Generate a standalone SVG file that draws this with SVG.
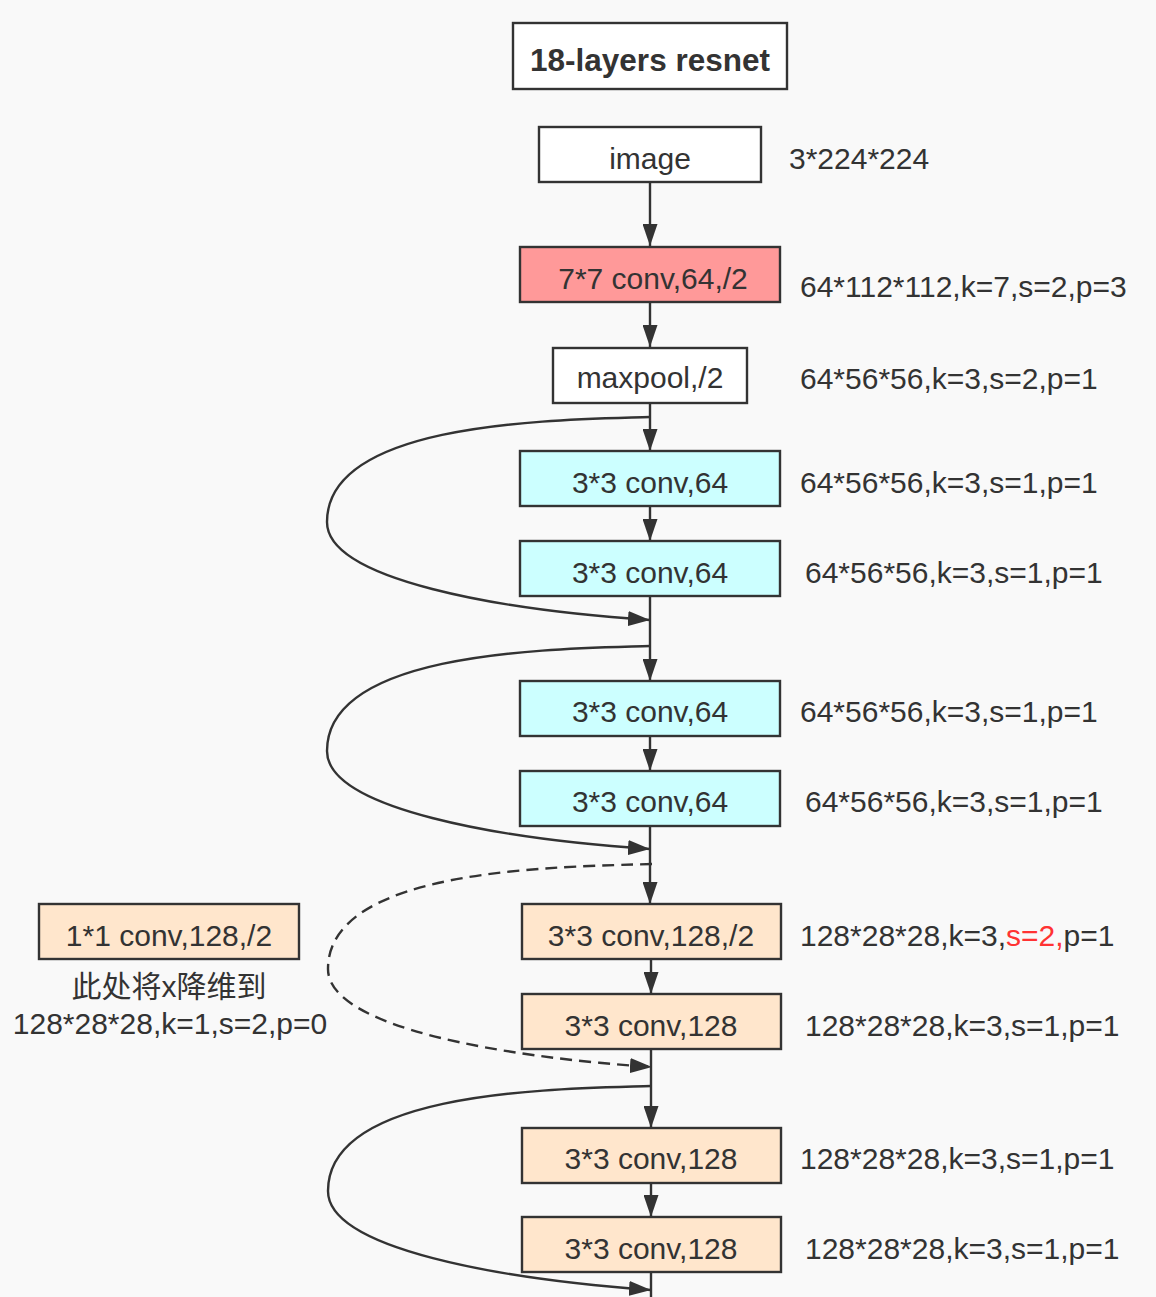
<svg xmlns="http://www.w3.org/2000/svg" width="1156" height="1297" viewBox="0 0 1156 1297">
<style>
.bx{stroke:#333;stroke-width:2.4}
.t{font-family:"Liberation Sans",Arial,sans-serif;font-size:30px;fill:#333}
.c{text-anchor:middle}
.ln{fill:none;stroke:#333;stroke-width:2.4}
.dash{stroke-dasharray:12,7}
.red{fill:#ff3333}
</style>
<defs>
<marker id="ah" viewBox="0 0 22 15" refX="22" refY="7.5" markerWidth="22" markerHeight="15" markerUnits="userSpaceOnUse" orient="auto">
<path d="M0,0 L22,7.5 L0,15 z" fill="#333" stroke="none"/>
</marker>
</defs>
<rect width="1156" height="1297" fill="#f9f9f9"/>

<g id="connectors">
<path class="ln" d="M650,183 V246" marker-end="url(#ah)"/>
<path class="ln" d="M650,303 V347" marker-end="url(#ah)"/>
<path class="ln" d="M650,403 V451" marker-end="url(#ah)"/>
<path class="ln" d="M650,506 V541" marker-end="url(#ah)"/>
<path class="ln" d="M650,596 V681" marker-end="url(#ah)"/>
<path class="ln" d="M650,736 V771" marker-end="url(#ah)"/>
<path class="ln" d="M650,826 V904" marker-end="url(#ah)"/>
<path class="ln" d="M651,959 V994" marker-end="url(#ah)"/>
<path class="ln" d="M651,1049 V1128" marker-end="url(#ah)"/>
<path class="ln" d="M651,1183 V1217" marker-end="url(#ah)"/>
<path class="ln" d="M651,1272 V1300"/>
<path class="ln" d="M650,417 C560,420 327,420 327,522 C327,580 500,610 650,620" marker-end="url(#ah)"/>
<path class="ln" d="M650,646 C560,649 327,649 327,751 C327,809 500,839 650,849" marker-end="url(#ah)"/>
<path class="ln dash" d="M652,864 C560,867 328,867 328,969 C328,1027 500,1057 652,1067" marker-end="url(#ah)"/>
<path class="ln" d="M651,1086 C560,1089 328,1089 328,1191 C328,1249 500,1279 651,1290" marker-end="url(#ah)"/>
</g>

<g id="title">
<rect class="bx" x="513" y="23" width="274" height="66" fill="#fff"/>
<text x="650" y="71" text-anchor="middle" style="font-family:'Liberation Sans',Arial,sans-serif;font-size:31.5px;font-weight:bold;fill:#333">18-layers resnet</text>
</g>

<g id="image">
<rect class="bx" x="539" y="127" width="222" height="55" fill="#fff"/>
<text class="t c" x="650" y="169">image</text>
<text class="t" x="789" y="169">3*224*224</text>
</g>

<g id="conv7">
<rect class="bx" x="520" y="247" width="260" height="55" fill="#ff9999"/>
<text class="t c" x="653" y="289">7*7 conv,64,/2</text>
<text class="t" x="800" y="297">64*112*112,k=7,s=2,p=3</text>
</g>

<g id="maxpool">
<rect class="bx" x="553" y="348" width="194" height="55" fill="#fff"/>
<text class="t c" x="650" y="388">maxpool,/2</text>
<text class="t" x="800" y="389">64*56*56,k=3,s=2,p=1</text>
</g>

<g id="conv64a">
<rect class="bx" x="520" y="451" width="260" height="55" fill="#ccffff"/>
<text class="t c" x="650" y="493">3*3 conv,64</text>
<text class="t" x="800" y="493">64*56*56,k=3,s=1,p=1</text>
</g>

<g id="conv64b">
<rect class="bx" x="520" y="541" width="260" height="55" fill="#ccffff"/>
<text class="t c" x="650" y="583">3*3 conv,64</text>
<text class="t" x="805" y="583">64*56*56,k=3,s=1,p=1</text>
</g>

<g id="conv64c">
<rect class="bx" x="520" y="681" width="260" height="55" fill="#ccffff"/>
<text class="t c" x="650" y="722">3*3 conv,64</text>
<text class="t" x="800" y="722">64*56*56,k=3,s=1,p=1</text>
</g>

<g id="conv64d">
<rect class="bx" x="520" y="771" width="260" height="55" fill="#ccffff"/>
<text class="t c" x="650" y="812">3*3 conv,64</text>
<text class="t" x="805" y="812">64*56*56,k=3,s=1,p=1</text>
</g>

<g id="conv128a">
<rect class="bx" x="522" y="904" width="259" height="55" fill="#ffe6cc"/>
<text class="t c" x="651" y="946">3*3 conv,128,/2</text>
<text class="t" x="800" y="946">128*28*28,k=3,<tspan class="red">s=2,</tspan>p=1</text>
</g>

<g id="conv128b">
<rect class="bx" x="522" y="994" width="259" height="55" fill="#ffe6cc"/>
<text class="t c" x="651" y="1036">3*3 conv,128</text>
<text class="t" x="805" y="1036">128*28*28,k=3,s=1,p=1</text>
</g>

<g id="conv128c">
<rect class="bx" x="522" y="1128" width="259" height="55" fill="#ffe6cc"/>
<text class="t c" x="651" y="1169">3*3 conv,128</text>
<text class="t" x="800" y="1169">128*28*28,k=3,s=1,p=1</text>
</g>

<g id="conv128d">
<rect class="bx" x="522" y="1217" width="259" height="55" fill="#ffe6cc"/>
<text class="t c" x="651" y="1259">3*3 conv,128</text>
<text class="t" x="805" y="1259">128*28*28,k=3,s=1,p=1</text>
</g>

<g id="conv1x1">
<rect class="bx" x="39" y="904" width="260" height="55" fill="#ffe6cc"/>
<text class="t c" x="169" y="946">1*1 conv,128,/2</text>
<text class="c" x="169" y="997" style="font-family:'Liberation Sans','Noto Sans CJK SC',sans-serif;font-size:30px;fill:#333">此处将x降维到</text>
<text class="t c" x="170" y="1034">128*28*28,k=1,s=2,p=0</text>
</g>
</svg>
